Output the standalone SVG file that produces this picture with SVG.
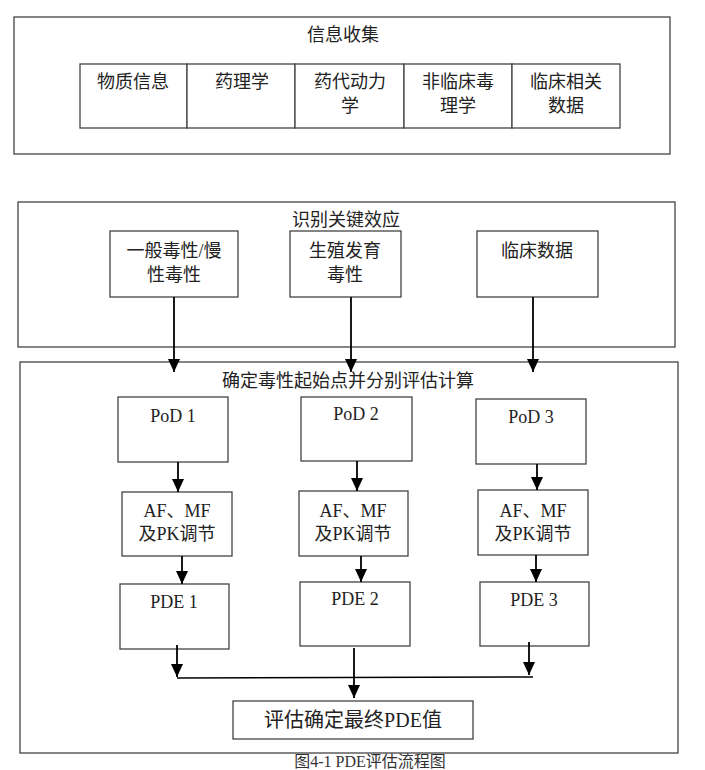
<svg xmlns="http://www.w3.org/2000/svg" width="705" height="770" viewBox="0 0 705 770">
<defs>
<style>
.box{fill:#fff;stroke:#444;stroke-width:1.3}
.t{font-family:"Liberation Serif","Noto Sans CJK SC",serif;font-size:18px;fill:#222;text-anchor:middle}
.c{stroke:#000;stroke-width:1.8;fill:none}
</style>
<marker id="ad" markerUnits="userSpaceOnUse" markerWidth="12" markerHeight="13" refX="6" refY="13" viewBox="0 0 12 13">
<path d="M0,0 L12,0 L6,13 Z" fill="#000"/>
</marker>
</defs>
<rect width="705" height="770" fill="#fff"/>

<g id="info">
<rect class="box" x="14" y="17" width="656" height="137" stroke="#777"/>
<text class="t" x="343" y="41">信息收集</text>
</g>
<g id="info-items">
<rect class="box" x="80" y="64" width="107" height="64"/>
<text class="t" x="133" y="88">物质信息</text>
<rect class="box" x="187" y="64" width="108" height="64"/>
<text class="t" x="242" y="88">药理学</text>
<rect class="box" x="295" y="64" width="109" height="64"/>
<text class="t" x="350" y="88">药代动力</text>
<text class="t" x="350" y="112">学</text>
<rect class="box" x="404" y="64" width="108" height="64"/>
<text class="t" x="458" y="88">非临床毒</text>
<text class="t" x="458" y="112">理学</text>
<rect class="box" x="512" y="64" width="108" height="64"/>
<text class="t" x="566" y="88">临床相关</text>
<text class="t" x="566" y="112">数据</text>
</g>

<g id="identify">
<rect class="box" x="18" y="202" width="657" height="145"/>
<text class="t" x="346" y="226">识别关键效应</text>
</g>
<g id="general-tox">
<rect class="box" x="110" y="231" width="128" height="66"/>
<text class="t" x="174" y="257">一般毒性/慢</text>
<text class="t" x="174" y="281">性毒性</text>
</g>
<g id="repro-tox">
<rect class="box" x="290" y="231" width="111" height="66"/>
<text class="t" x="345" y="257">生殖发育</text>
<text class="t" x="345" y="281">毒性</text>
</g>
<g id="clinical">
<rect class="box" x="477" y="231" width="121" height="66"/>
<text class="t" x="537" y="257">临床数据</text>
</g>

<g id="pod-calc">
<rect class="box" x="20" y="362" width="658" height="391" stroke="#666"/>
<text class="t" x="348" y="387">确定毒性起始点并分别评估计算</text>
</g>
<g id="pod1"><rect class="box" x="118" y="397" width="110" height="65"/><text class="t" x="173" y="422">PoD 1</text></g>
<g id="pod2"><rect class="box" x="301" y="397" width="111" height="64"/><text class="t" x="356" y="420">PoD 2</text></g>
<g id="pod3"><rect class="box" x="476" y="399" width="110" height="65"/><text class="t" x="531" y="423">PoD 3</text></g>

<g id="af1"><rect class="box" x="122" y="492" width="110" height="64"/><text class="t" x="177" y="517">AF、MF</text><text class="t" x="177" y="540">及PK调节</text></g>
<g id="af2"><rect class="box" x="299" y="491" width="109" height="65"/><text class="t" x="353" y="517">AF、MF</text><text class="t" x="353" y="540">及PK调节</text></g>
<g id="af3"><rect class="box" x="478" y="490" width="110" height="65"/><text class="t" x="533" y="517">AF、MF</text><text class="t" x="533" y="540">及PK调节</text></g>

<g id="pde1"><rect class="box" x="120" y="584" width="109" height="65"/><text class="t" x="174" y="608">PDE 1</text></g>
<g id="pde2"><rect class="box" x="300" y="582" width="110" height="64"/><text class="t" x="355" y="605">PDE 2</text></g>
<g id="pde3"><rect class="box" x="480" y="582" width="109" height="64"/><text class="t" x="534" y="606">PDE 3</text></g>

<g id="final"><rect class="box" x="233" y="701" width="240" height="38"/><text class="t" x="353" y="727" style="font-size:20px">评估确定最终PDE值</text></g>

<g id="connectors">
<line class="c" x1="174" y1="297" x2="174" y2="372" marker-end="url(#ad)"/>
<line class="c" x1="351" y1="297" x2="351" y2="372" marker-end="url(#ad)"/>
<line class="c" x1="533" y1="297" x2="533" y2="372" marker-end="url(#ad)"/>
<line class="c" x1="178" y1="462" x2="178" y2="492" marker-end="url(#ad)"/>
<line class="c" x1="357" y1="461" x2="357" y2="491" marker-end="url(#ad)"/>
<line class="c" x1="537" y1="464" x2="537" y2="490" marker-end="url(#ad)"/>
<line class="c" x1="182" y1="556" x2="182" y2="584" marker-end="url(#ad)"/>
<line class="c" x1="361" y1="556" x2="361" y2="582" marker-end="url(#ad)"/>
<line class="c" x1="536" y1="555" x2="536" y2="582" marker-end="url(#ad)"/>
<line class="c" x1="177" y1="645" x2="177" y2="677" marker-end="url(#ad)"/>
<line class="c" x1="529" y1="642" x2="529" y2="675" marker-end="url(#ad)"/>
<line class="c" x1="177" y1="678" x2="533" y2="677" style="stroke-width:1.5"/>
<line class="c" x1="354" y1="648" x2="354" y2="698" marker-end="url(#ad)"/>
</g>

<text class="t" x="370" y="767" style="font-size:16px;fill:#333">图4-1 PDE评估流程图</text>
</svg>
